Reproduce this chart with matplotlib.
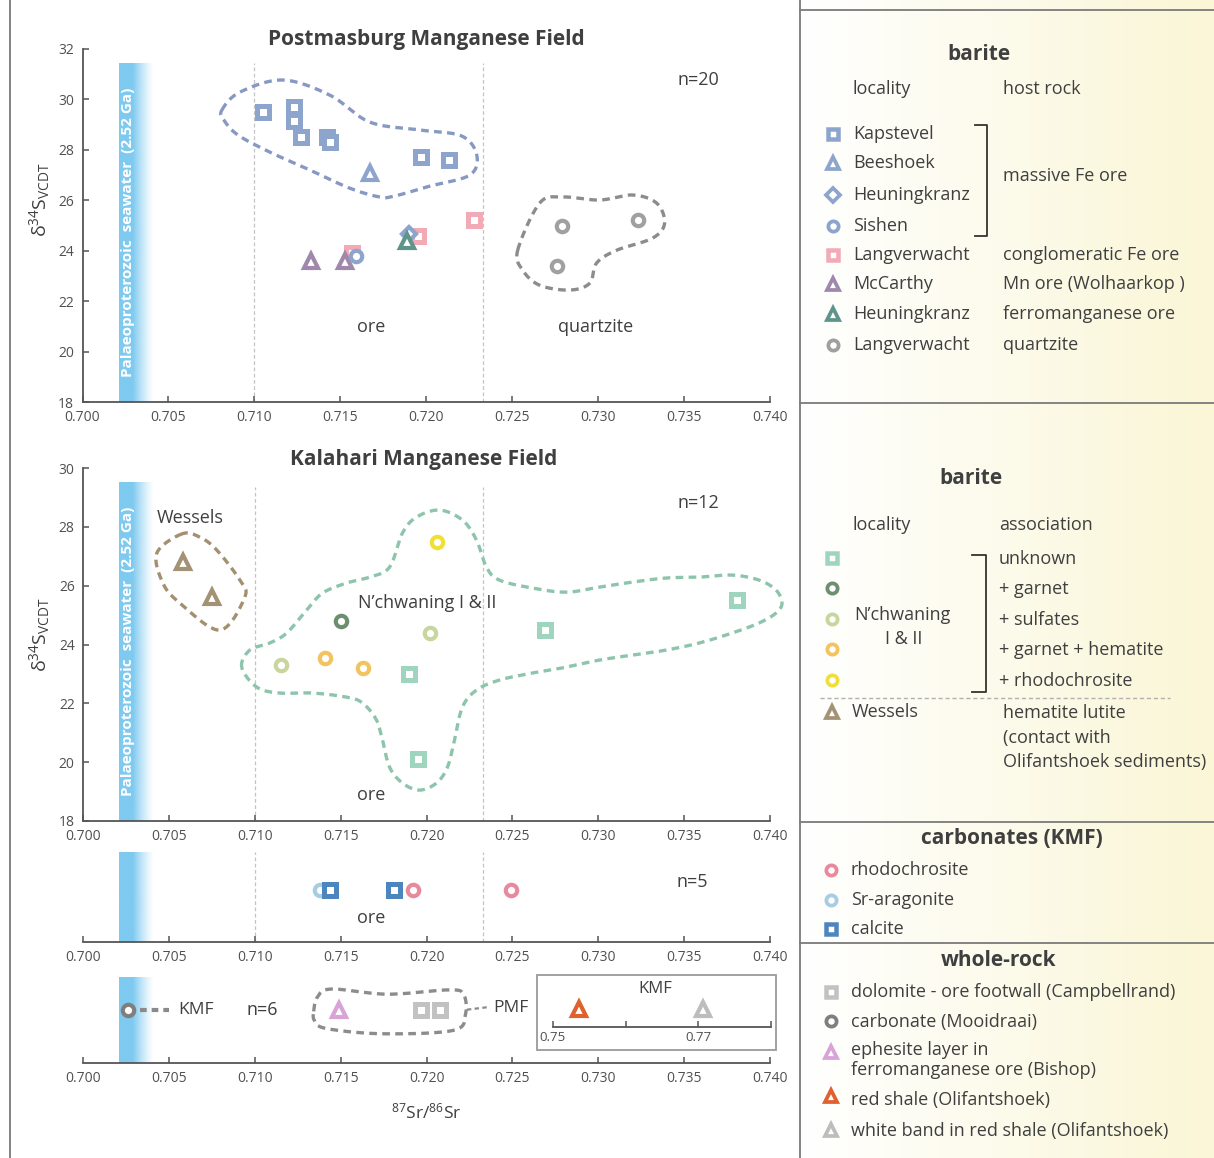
import numpy as np
import matplotlib
matplotlib.use("Agg")
import matplotlib.pyplot as plt
from matplotlib.colors import to_rgb

plt.rcParams["font.family"] = ["Open Sans", "DejaVu Sans"]
plt.rcParams["mathtext.fontset"] = "custom"
plt.rcParams["mathtext.rm"] = "Open Sans"
plt.rcParams["mathtext.it"] = "Open Sans:italic"
plt.rcParams["mathtext.bf"] = "Open Sans:bold"

# ---------------- data: 87Sr/86Sr (x) and d34S (y) ----------------
# Postmasburg Manganese Field (barite)
kapstevel_x = [0.7105, 0.7123, 0.7123, 0.7127, 0.7142, 0.7144, 0.7197, 0.7213]
kapstevel_y = [29.5, 29.7, 29.15, 28.5, 28.5, 28.3, 27.7, 27.6]
beeshoek_x = [0.7167]
beeshoek_y = [27.1]
langverwacht_ore_x = [0.7157, 0.7195, 0.7228]
langverwacht_ore_y = [23.9, 24.6, 25.2]
heuningkranz_fe_x = [0.7190]
heuningkranz_fe_y = [24.65]
sishen_x = [0.7159]
sishen_y = [23.8]
mccarthy_x = [0.7133, 0.7153]
mccarthy_y = [23.6, 23.6]
heuningkranz_fmn_x = [0.7189]
heuningkranz_fmn_y = [24.4]
langverwacht_qtz_x = [0.7279, 0.7276, 0.7323]
langverwacht_qtz_y = [25.0, 23.4, 25.2]

# Kalahari Manganese Field (barite)
unknown_x = [0.7190, 0.7195, 0.7269, 0.7381]
unknown_y = [23.0, 20.1, 24.5, 25.5]
garnet_x = [0.7150]
garnet_y = [24.8]
sulfates_x = [0.7115, 0.7202]
sulfates_y = [23.3, 24.4]
garnet_hem_x = [0.7141, 0.7163]
garnet_hem_y = [23.55, 23.2]
rhodo_assoc_x = [0.7206]
rhodo_assoc_y = [27.5]
wessels_x = [0.7058, 0.7075]
wessels_y = [26.8, 25.6]

# carbonates (KMF), Sr only
rhodochrosite_x = [0.7192, 0.7249]
sr_aragonite_x = [0.7138]
calcite_x = [0.7144, 0.7181]

# whole-rock, Sr only
mooidraai_x = [0.7026]
ephesite_x = [0.7149]
campbellrand_x = [0.7197, 0.7208]
red_shale_x = [0.7536]
white_band_x = [0.7707]

# counts shown per panel
n_pmf, n_kmf, n_carb, n_wr = 20, 12, 5, 6

# outlined groups (closed outlines, data units)
pmf_ore_loop = ([0.70811, 0.70916, 0.71166, 0.71439, 0.71672, 0.71962, 0.72206, 0.72294,
                 0.72253, 0.72020, 0.71817, 0.71730, 0.71555, 0.71323, 0.71090, 0.70904, 0.70823],
                [29.58, 30.29, 30.77, 30.17, 29.10, 28.79, 28.55, 27.79,
                 27.00, 26.56, 26.17, 26.13, 26.48, 27.20, 27.91, 28.59, 29.18])
pmf_qtz_loop = ([0.72532, 0.72660, 0.72794, 0.73009, 0.73201, 0.73340, 0.73387, 0.73317,
                 0.73108, 0.72991, 0.72951, 0.72834, 0.72660, 0.72561],
                [24.02, 25.89, 26.13, 26.01, 26.21, 25.89, 25.10, 24.50,
                 24.02, 23.51, 22.71, 22.44, 22.63, 23.23])
wessels_loop = ([0.70576, 0.70430, 0.70465, 0.70564, 0.70797, 0.70942, 0.70913, 0.70779, 0.70680],
                [27.76, 27.11, 26.09, 25.41, 24.49, 25.61, 26.19, 27.21, 27.65])
nchwaning_loop = ([0.70924, 0.70971, 0.71087, 0.71186, 0.71302, 0.71395, 0.71535, 0.71669, 0.71785,
                   0.71860, 0.71942, 0.72076, 0.72209, 0.72291, 0.72349, 0.72424, 0.72616, 0.72814,
                   0.73006, 0.73198, 0.73395, 0.73587, 0.73779, 0.73936, 0.74035, 0.74070, 0.74035,
                   0.73936, 0.73779, 0.73587, 0.73395, 0.73198, 0.73006, 0.72814, 0.72616, 0.72424,
                   0.72291, 0.72209, 0.72163, 0.72122, 0.72058, 0.71959, 0.71860, 0.71785, 0.71744,
                   0.71709, 0.71628, 0.71535, 0.71337, 0.71145, 0.71012],
                  [23.23, 23.81, 24.05, 24.39, 25.17, 25.75, 26.09, 26.29, 26.63,
                   27.79, 28.33, 28.57, 28.23, 27.55, 26.63, 26.19, 25.92, 25.78,
                   25.95, 26.12, 26.26, 26.29, 26.36, 26.19, 25.85, 25.41, 25.07,
                   24.73, 24.39, 24.05, 23.81, 23.64, 23.47, 23.23, 23.03, 22.79,
                   22.45, 21.87, 20.75, 19.83, 19.29, 19.05, 19.29, 19.83, 20.75,
                   21.43, 22.01, 22.21, 22.35, 22.35, 22.55])
pmf_wr_loop = ([0.71343, 0.71366, 0.71448, 0.71773, 0.72128, 0.72215, 0.72227, 0.72157,
                0.71744, 0.71419, 0.71349],
               [0.60, 0.77, 0.86, 0.80, 0.85, 0.80, 0.57, 0.38, 0.34, 0.40, 0.49])

# ---------------- styling ----------------
C_PMF = "#8da5cc"
C_LANG = "#f2aab6"
C_MCC = "#9f88ac"
C_HEU = "#5e958a"
C_QTZ = "#a0a0a0"
C_UNK = "#9fd5bf"
C_GAR = "#6d8e6f"
C_SUL = "#c7d69c"
C_GH = "#f3c360"
C_RHA = "#f1df35"
C_WES = "#a39274"
C_RHO = "#e98a9c"
C_ARA = "#a9cce1"
C_CAL = "#4d86bf"
C_DOL = "#c2c2c2"
C_MOO = "#7f7f7f"
C_EPH = "#d9a3d8"
C_RED = "#e0602e"
C_WHI = "#bdbdbd"
TXT = "#3f3f3f"
AX = "#555555"
FS = 13

W, H = 1214, 1158
fig = plt.figure(figsize=(W / 100, H / 100), dpi=100)


def axes_px(l, t, r, b, **kw):
    return fig.add_axes([l / W, 1 - b / H, (r - l) / W, (b - t) / H], **kw)


MK = {
    "s": dict(ms=8, mew=3.6),
    "o": dict(ms=8.2, mew=3.0),
    "^": dict(ms=10, mew=3.0),
    "D": dict(ms=7.5, mew=3.0),
}


def pts(ax, x, y, marker, color, scale=1.0, z=5):
    st = MK[marker]
    ax.plot(x, y, ls="none", marker=marker, ms=st["ms"] * scale, mew=st["mew"] * scale,
            mfc="white", mec=color, clip_on=False, zorder=z)


def smooth_closed(xs, ys, n=24):
    P = np.column_stack([xs, ys]).astype(float)
    N = len(P)
    t = np.linspace(0, 1, n, endpoint=False)[:, None]
    out = []
    for i in range(N):
        p0, p1, p2, p3 = P[i - 1], P[i], P[(i + 1) % N], P[(i + 2) % N]
        out.append(0.5 * (2 * p1 + (-p0 + p2) * t + (2 * p0 - 5 * p1 + 4 * p2 - p3) * t ** 2
                          + (-p0 + 3 * p1 - 3 * p2 + p3) * t ** 3))
    out = np.vstack(out + [out[0][:1]])
    return out[:, 0], out[:, 1]


def loop(ax, outline, color):
    sx, sy = smooth_closed(*outline)
    ax.plot(sx, sy, color=color, lw=2.4, dashes=(2.3, 1.6), clip_on=False, zorder=3,
            dash_capstyle="butt")


def seawater(ax, y0, y1, text=True):
    rgb = to_rgb("#7fcaf0")
    xs = np.linspace(0.7021, 0.7041, 200)
    a = np.clip((0.7041 - xs) / (0.7041 - 0.7029), 0, 1) ** 1.3
    img = np.zeros((1, 200, 4))
    img[..., :3] = rgb
    img[0, :, 3] = a
    ax.imshow(img, extent=[0.7021, 0.7041, y0, y1], aspect="auto", zorder=1,
              interpolation="bilinear")
    if text:
        ax.text(0.70262, (y0 + y1) / 2, "Palaeoproterozoic  seawater  (2.52 Ga)", rotation=90,
                color="white", fontweight="bold", fontsize=11, ha="center", va="center",
                zorder=2)


def vlines(ax, y0, y1):
    for xv in (0.710, 0.7233):
        ax.plot([xv, xv], [y0, y1], color="#c4c4c4", lw=0.9, dashes=(3, 2), zorder=0.5)


def style_axes(ax, left=True):
    for s in ("top", "right"):
        ax.spines[s].set_visible(False)
    ax.spines["left"].set_visible(left)
    for s in ("left", "bottom"):
        ax.spines[s].set_color(AX)
        ax.spines[s].set_linewidth(1.3)
    ax.tick_params(direction="in", length=4, width=1.1, colors=AX, labelsize=10,
                   labelcolor="#505050", pad=6)
    ax.set_xlim(0.700, 0.740)
    ax.set_xticks(np.arange(0.700, 0.7401, 0.005))
    ax.set_xticklabels([f"{v:.3f}" for v in np.arange(0.700, 0.7401, 0.005)])
    if not left:
        ax.set_yticks([])


# legend column background (white to pale yellow)
bg = fig.add_axes([800 / W, 0, 414 / W, 1], zorder=-5)
grad = np.zeros((1, 256, 3))
c0, c1 = np.array(to_rgb("#ffffff")), np.array(to_rgb("#faf6d6"))
grad[0] = c0 + (c1 - c0) * np.linspace(0, 1, 256)[:, None]
bg.imshow(grad, aspect="auto", extent=[0, 1, 0, 1])
bg.axis("off")

# ---------------- Postmasburg panel ----------------
ax1 = axes_px(82.5, 49, 770, 402)
style_axes(ax1)
seawater(ax1, 18, 31.44)
vlines(ax1, 18, 31.44)
loop(ax1, pmf_ore_loop, "#8799c2")
loop(ax1, pmf_qtz_loop, "#8c8c8c")
pts(ax1, kapstevel_x, kapstevel_y, "s", C_PMF)
pts(ax1, langverwacht_ore_x, langverwacht_ore_y, "s", C_LANG)
pts(ax1, beeshoek_x, beeshoek_y, "^", C_PMF)
pts(ax1, mccarthy_x, mccarthy_y, "^", C_MCC)
pts(ax1, sishen_x, sishen_y, "o", C_PMF)
pts(ax1, heuningkranz_fe_x, heuningkranz_fe_y, "D", C_PMF)
pts(ax1, heuningkranz_fmn_x, heuningkranz_fmn_y, "^", C_HEU)
pts(ax1, langverwacht_qtz_x, langverwacht_qtz_y, "o", C_QTZ)
ax1.set_ylim(18, 32)
ax1.set_yticks(range(18, 33, 2))
ax1.set_xlim(0.700, 0.740)

# ---------------- Kalahari panel ----------------
ax2 = axes_px(83, 468, 770, 821)
style_axes(ax2)
seawater(ax2, 18, 29.52)
vlines(ax2, 18, 29.35)
loop(ax2, wessels_loop, "#a39070")
loop(ax2, nchwaning_loop, "#8cc5ab")
pts(ax2, wessels_x, wessels_y, "^", C_WES)
pts(ax2, unknown_x, unknown_y, "s", C_UNK)
pts(ax2, garnet_x, garnet_y, "o", C_GAR)
pts(ax2, sulfates_x, sulfates_y, "o", C_SUL)
pts(ax2, garnet_hem_x, garnet_hem_y, "o", C_GH)
pts(ax2, rhodo_assoc_x, rhodo_assoc_y, "o", C_RHA)
ax2.set_ylim(18, 30)
ax2.set_yticks(range(18, 31, 2))
ax2.set_xlim(0.700, 0.740)

# ---------------- carbonates strip ----------------
ROW = 0.58
ax3 = axes_px(83, 852, 770, 942)
style_axes(ax3, left=False)
seawater(ax3, 0, 1, text=False)
vlines(ax3, 0, 1)
pts(ax3, sr_aragonite_x, [ROW] * len(sr_aragonite_x), "o", C_ARA)
pts(ax3, calcite_x, [ROW] * len(calcite_x), "s", C_CAL)
pts(ax3, rhodochrosite_x, [ROW] * len(rhodochrosite_x), "o", C_RHO)
ax3.set_ylim(0, 1)
ax3.set_xlim(0.700, 0.740)

# ---------------- whole-rock strip ----------------
ROW4 = 0.62
ax4 = axes_px(83, 977, 770, 1063)
style_axes(ax4, left=False)
seawater(ax4, 0, 1, text=False)
loop(ax4, pmf_wr_loop, "#8c8c8c")
ax4.plot([0.7033, 0.7050], [ROW4, ROW4], color="#8a8a8a", lw=3, dashes=(1.6, 1.2), zorder=3)
ax4.plot([0.72235, 0.7236], [ROW4, ROW4 + 0.03], color="#8a8a8a", lw=1.6, dashes=(2, 1.5),
         zorder=3)
pts(ax4, mooidraai_x, [ROW4] * len(mooidraai_x), "o", C_MOO)
pts(ax4, ephesite_x, [ROW4] * len(ephesite_x), "^", C_EPH)
pts(ax4, campbellrand_x, [ROW4] * len(campbellrand_x), "s", C_DOL)
ax4.set_ylim(0, 1)
ax4.set_xlim(0.700, 0.740)
ax4.set_xlabel(r"$^{87}\mathrm{Sr}/^{86}\mathrm{Sr}$", fontsize=12.5, color=TXT, labelpad=12)

# inset for the off-scale KMF whole-rock samples
axi = axes_px(553, 987, 771, 1027)
for s in ("top", "right", "left"):
    axi.spines[s].set_visible(False)
axi.spines["bottom"].set_color(AX)
axi.spines["bottom"].set_linewidth(1.3)
axi.set_xlim(0.75, 0.78)
axi.set_ylim(0, 1)
axi.set_yticks([])
axi.set_xticks([0.75, 0.76, 0.77, 0.78])
axi.set_xticklabels(["0.75", "", "0.77", ""])
axi.tick_params(direction="in", length=4, width=1.1, colors=AX, labelsize=9.5,
                labelcolor="#505050", pad=3)
axi.patch.set_alpha(0)
pts(axi, red_shale_x, [0.45], "^", C_RED)
pts(axi, white_band_x, [0.45], "^", C_WHI)

# ---------------- overlay: frame, titles, legends ----------------
ov = fig.add_axes([0, 0, 1, 1], zorder=10)
ov.set_xlim(0, W)
ov.set_ylim(H, 0)
ov.axis("off")

FR = "#7a7a7a"
ov.plot([10, 10], [0, H], color=FR, lw=1.3)
ov.plot([800, 800], [0, H], color=FR, lw=1.3)
for yy in (10, 403, 822, 943):
    ov.plot([800, W], [yy, yy], color=FR, lw=1.3)
ov.add_patch(plt.Rectangle((537, 975), 239, 75, fill=False, ec="#9a9a9a", lw=1.3))
ov.text(655, 989, "KMF", fontsize=12, color=TXT, ha="center", va="center")


def t(x, y, s, size=FS, ha="left", bold=False, color=TXT):
    ov.text(x, y, s, fontsize=size, ha=ha, va="center", color=color,
            fontweight="bold" if bold else "normal")


# plot annotations
t(426, 40, "Postmasburg Manganese Field", 15, "center", True)
t(424, 460, "Kalahari Manganese Field", 15, "center", True)
t(698, 80, f"n={n_pmf}", FS, "center")
t(371, 327, "ore", FS, "center")
t(596, 327, "quartzite", FS, "center")
t(698, 503, f"n={n_kmf}", FS, "center")
t(190, 518, "Wessels", FS, "center")
t(427, 603, "N\u2019chwaning I & II", FS, "center")
t(371, 795, "ore", FS, "center")
t(692, 882, f"n={n_carb}", FS, "center")
t(371, 918, "ore", FS, "center")
t(196, 1010, "KMF", 12.5, "center")
t(262, 1010, f"n={n_wr}", FS, "center")
t(511, 1008, "PMF", 12.5, "center")

ylab = "$\\mathrm{\u03b4}^{34}\\mathrm{S}_{\\mathrm{VCDT}}$"
for yc in (200, 635):
    ov.text(40, yc, ylab, rotation=90, fontsize=14, color=TXT, ha="center", va="center")


def lm(x, y, marker, color):
    st = MK[marker]
    sc = 0.9
    ov.plot([x], [y], ls="none", marker=marker, ms=st["ms"] * sc, mew=st["mew"] * sc,
            mfc="white", mec=color, zorder=12)


# legend: PMF barite
t(979, 55, "barite", 15, "center", True)
t(853, 89, "locality")
t(1003, 89, "host rock")
leg1 = [("s", C_PMF, "Kapstevel", 134), ("^", C_PMF, "Beeshoek", 163),
        ("D", C_PMF, "Heuningkranz", 195), ("o", C_PMF, "Sishen", 226),
        ("s", C_LANG, "Langverwacht", 255), ("^", C_MCC, "McCarthy", 284),
        ("^", C_HEU, "Heuningkranz", 314), ("o", C_QTZ, "Langverwacht", 345)]
for m, c, lab, yy in leg1:
    lm(833, yy, m, c)
    t(853, yy, lab)
ov.plot([975, 987, 987, 975], [125, 125, 236, 236], color="#333333", lw=1.3)
t(1003, 176, "massive Fe ore")
t(1003, 255, "conglomeratic Fe ore")
t(1003, 284, "Mn ore (Wolhaarkop )")
t(1003, 314, "ferromanganese ore")
t(1003, 345, "quartzite")

# legend: KMF barite
t(971, 478, "barite", 15, "center", True)
t(852, 525, "locality")
t(999, 525, "association")
leg2 = [("s", C_UNK, "unknown", 558), ("o", C_GAR, "+ garnet", 588),
        ("o", C_SUL, "+ sulfates", 619), ("o", C_GH, "+ garnet + hematite", 649),
        ("o", C_RHA, "+ rhodochrosite", 680)]
for m, c, lab, yy in leg2:
    lm(832, yy, m, c)
    t(999, yy + 1, lab)
t(902, 615, "N\u2019chwaning", FS, "center")
t(904, 639, "I & II", FS, "center")
ov.plot([972, 986, 986, 972], [555, 555, 692, 692], color="#333333", lw=1.3)
ov.plot([820, 1170], [698, 698], color="#b0b0b0", lw=1, dashes=(3, 2))
lm(832, 712, "^", C_WES)
t(852, 712, "Wessels")
t(1003, 713, "hematite lutite")
t(1003, 738, "(contact with")
t(1003, 762, "Olifantshoek sediments)")

# legend: carbonates
t(1012, 838, "carbonates (KMF)", 15, "center", True)
for m, c, lab, yy in [("o", C_RHO, "rhodochrosite", 870), ("o", C_ARA, "Sr-aragonite", 900),
                      ("s", C_CAL, "calcite", 929)]:
    lm(831, yy, m, c)
    t(851, yy, lab)

# legend: whole-rock
t(999, 960, "whole-rock", 15, "center", True)
lm(831, 992, "s", C_DOL)
t(851, 992, "dolomite - ore footwall (Campbellrand)")
lm(831, 1021, "o", C_MOO)
t(851, 1022, "carbonate (Mooidraai)")
lm(831, 1052, "^", C_EPH)
t(851, 1050, "ephesite layer in")
t(851, 1070, "ferromanganese ore (Bishop)")
lm(831, 1096, "^", C_RED)
t(851, 1100, "red shale (Olifantshoek)")
lm(831, 1130, "^", C_WHI)
t(851, 1131, "white band in red shale (Olifantshoek)")

fig.savefig("out.png", dpi=100)
